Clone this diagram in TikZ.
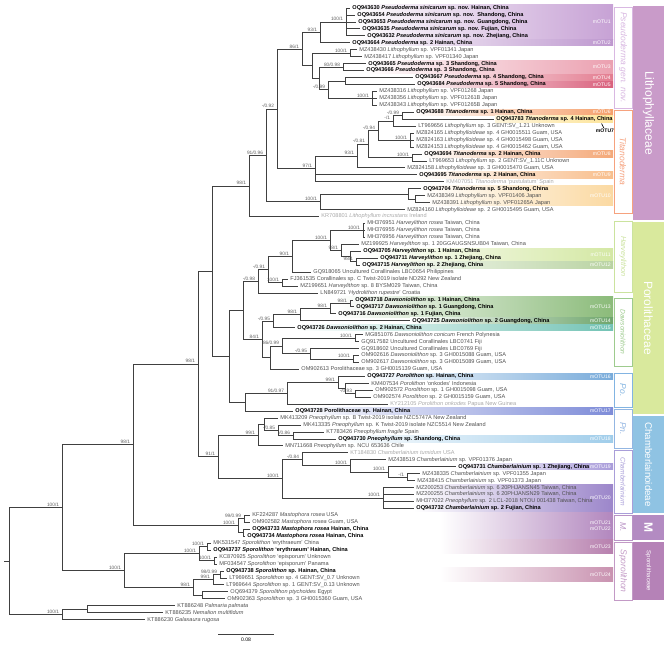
\documentclass[tikz,border=0pt]{standalone}
\usepackage{fontspec}
\setmainfont{Liberation Sans}
\usetikzlibrary{calc}

\definecolor{brgray}{HTML}{404040}
\definecolor{gbgray}{HTML}{505050}
\definecolor{tygray}{HTML}{A8A8A8}
\definecolor{supgray}{HTML}{606060}
\definecolor{c1}{HTML}{C7A2D5}
\definecolor{c2}{HTML}{BE98CF}
\definecolor{c3}{HTML}{EBA0B0}
\definecolor{c4}{HTML}{E37C90}
\definecolor{c5}{HTML}{D9607C}
\definecolor{c6}{HTML}{F5A06C}
\definecolor{c8}{HTML}{F4A878}
\definecolor{c9}{HTML}{F8BE8C}
\definecolor{c10}{HTML}{FBD9A2}
\definecolor{c11}{HTML}{D4E8A4}
\definecolor{c12}{HTML}{B9D3A2}
\definecolor{c13}{HTML}{8BBB7A}
\definecolor{c14}{HTML}{6EA56C}
\definecolor{c15}{HTML}{73C3B5}
\definecolor{c16}{HTML}{78ABDA}
\definecolor{c17}{HTML}{7E8CD8}
\definecolor{c18}{HTML}{A0CDEA}
\definecolor{c19}{HTML}{A99CDA}
\definecolor{c20}{HTML}{9C86CA}
\definecolor{c21}{HTML}{B287BE}
\definecolor{c23}{HTML}{B780AE}
\definecolor{c24}{HTML}{C992B0}
\definecolor{hl}{HTML}{FDE49A}
\definecolor{f1}{HTML}{C99BC9}
\definecolor{f2}{HTML}{D9E99D}
\definecolor{f3}{HTML}{8FC3E3}
\definecolor{f4}{HTML}{B38BC2}
\definecolor{f5}{HTML}{B582B7}
\definecolor{g1}{HTML}{D9B8E2}
\definecolor{g2}{HTML}{F6A27E}
\definecolor{g3}{HTML}{CBE39E}
\definecolor{g4}{HTML}{9ECB8E}
\definecolor{g5}{HTML}{82B4E2}
\definecolor{g6}{HTML}{93B6E2}
\definecolor{g7}{HTML}{A99ED9}
\definecolor{g8}{HTML}{B993C6}
\definecolor{g9}{HTML}{C39AC6}

\tikzset{
  br/.style={draw=brgray, line width=0.55pt},
  tiplab/.style={anchor=west, inner xsep=1.6pt, inner ysep=0.3pt, font=\fontsize{4.2}{5}\selectfont},
  gb/.style={tiplab, text=gbgray},
  nw/.style={tiplab, text=black, font=\fontsize{4.2}{5}\selectfont\bfseries},
  ty/.style={tiplab, text=tygray},
  sup/.style={anchor=south east, inner xsep=2pt, inner ysep=0.5pt, text=supgray, font=\fontsize{3.6}{4}\selectfont},
  motulab/.style={anchor=east, align=right, inner sep=0.4pt, text=white, font=\fontsize{3.8}{4.4}\selectfont},
  gentext/.style={rotate=-90, inner sep=0pt},
  famtext/.style={rotate=-90, inner sep=0pt, text=white},
}

% row number -> vertical position
\newcommand{\rowy}[1]{8+6.95*(#1-1)}
% leaf: name, tip x, row, style, label
\newcommand{\tip}[5]{\node[#4] (#1) at (#2,{\rowy{#3}}) {#5};}
% clade: name, x, support, children (first and last set the height)
\newcommand{\clade}[4]{%
  \foreach \ch [count=\i] in {#4}{\ifnum\i=1\xdef\cfirst{\ch}\fi\xdef\clast{\ch}}
  \path let \p1=($(\cfirst)!0.5!(\clast)$) in coordinate (#1) at ({#2*0.75pt},\y1);
  \node[sup] (#1s) at (#1) {#3};
  \foreach \ch in {#4} \draw[br] (#1) |- (\ch);
}
% mOTU band: name, first row, last row, left x, colour, label
\newcommand{\motu}[6]{%
  \shade[left color=white, right color=#5] (#4,{\rowy{#2}-3.2}) rectangle (613,{\rowy{#3}+3.2});
  \node[motulab] (#1) at (611.5,{\rowy{(#2+#3)/2}}) {#6};}
% genus box: name, top, bottom, colour, size, text
\newcommand{\genus}[6]{%
  \draw[#4, line width=0.6pt, fill=white] (614,#2) rectangle (632,#3);
  \node[gentext, text=#4, font=\fontsize{#5}{#5}\selectfont\itshape] (#1) at (623,{(#2+#3)/2}) {#6};}
% family box: name, top, bottom, colour, size, text
\newcommand{\family}[6]{%
  \fill[#4] (633,#2) rectangle (664,#3);
  \node[famtext, font=\fontsize{#5}{#5}\selectfont] (#1) at (648.5,{(#2+#3)/2}) {#6};}

\begin{document}
\begin{tikzpicture}[x=0.75pt, y=-0.75pt]
\useasboundingbox (0,0) rectangle (665,650);

% mOTU bands
\motu{m1}{1}{5}{352}{c1}{mOTU1}
\motu{m2}{6}{6}{352}{c2}{mOTU2}
\motu{m3}{9}{10}{365}{c3}{mOTU3}
\motu{m4}{11}{11}{412}{c4}{mOTU4}
\motu{m5}{12}{12}{412}{c5}{mOTU5}
\motu{m6}{16}{16}{412}{c6}{mOTU6}
\shade[left color=hl!35, right color=hl] (495,{\rowy{17}-3.3}) rectangle (613,{\rowy{17}+3.3});
\motu{m8}{22}{22}{420}{c8}{mOTU8}
\motu{m9}{25}{25}{415}{c9}{mOTU9}
\motu{m10}{27}{29}{420}{c10}{mOTU10}
\motu{m11}{36}{37}{360}{c11}{mOTU11}
\motu{m12}{38}{38}{360}{c12}{mOTU12}
\motu{m13}{43}{45}{336}{c13}{mOTU13}
\motu{m14}{46}{46}{410}{c14}{mOTU14}
\motu{m15}{47}{47}{295}{c15}{mOTU15}
\motu{m16}{54}{54}{365}{c16}{mOTU16}
\motu{m17}{59}{59}{293}{c17}{mOTU17}
\motu{m18}{63}{63}{336}{c18}{mOTU18}
\motu{m19}{67}{67}{456}{c19}{mOTU19}
\motu{m20}{70}{73}{414}{c20}{mOTU20}
\motu{m21}{74}{77}{440}{c21}{mOTU21\\mOTU22}
\motu{m23}{78}{79}{440}{c23}{mOTU23}
\motu{m24}{82}{83}{440}{c24}{mOTU24}

% genus and family columns
\genus{pseudog}{7}{108}{g1}{6.4}{Pseudoderma gen. nov.}
\genus{titanog}{110}{213}{g2}{6.4}{Titanoderma}
\genus{harvg}{221}{292}{g3}{5.5}{Harveylithon}
\genus{dawsg}{298}{366}{g4}{5}{Dawsoniolithon}
\genus{pog}{373}{407}{g5}{6.4}{Po.}
\genus{png}{409}{448}{g6}{6.4}{Pn.}
\genus{chamg}{450}{513}{g7}{5}{Chamberlainium}
\genus{mg}{515}{540}{g8}{6.4}{M.}
\genus{sporg}{542}{600}{g9}{6.4}{Sporolithon}
\family{lithf}{6}{220}{f1}{9}{Lithophyllaceae}
\family{porof}{222}{414}{f2}{9}{Porolithaceae}
\family{chamf}{416}{513}{f3}{7.3}{Chamberlainoideae}
\family{mastf}{515}{540}{f4}{9}{\bfseries M}
\family{sporf}{542}{600}{f5}{4.5}{Sporolithaceae}

% leaves
\tip{OQ943630}{350}{1}{nw}{OQ943630 \textit{Pseudoderma sinicarum} sp. nov. Hainan, China}
\tip{OQ943654}{355}{2}{nw}{OQ943654 \textit{Pseudoderma sinicarum} sp. nov.\ \ Shandong, China}
\tip{OQ943653}{356}{3}{nw}{OQ943653 \textit{Pseudoderma sinicarum} sp. nov. Guangdong, China}
\tip{OQ943635}{360}{4}{nw}{OQ943635 \textit{Pseudoderma sinicarum} sp. nov. Fujian, China}
\tip{OQ943632}{365}{5}{nw}{OQ943632 \textit{Pseudoderma sinicarum} sp. nov. Zhejiang, China}
\tip{OQ943664}{350}{6}{nw}{OQ943664 \textit{Pseudoderma} sp. 2 Hainan, China}
\tip{MZ438430}{357}{7}{gb}{MZ438430 \textit{Lithophyllum} sp. VPF01341 Japan}
\tip{MZ438417}{362}{8}{gb}{MZ438417 \textit{Lithophyllum} sp. VPF01340 Japan}
\tip{OQ943665}{366}{9}{nw}{OQ943665 \textit{Pseudoderma} sp. 3 Shandong, China}
\tip{OQ943666}{364}{10}{nw}{OQ943666 \textit{Pseudoderma} sp. 3 Shandong, China}
\tip{OQ943667}{413}{11}{nw}{OQ943667 \textit{Pseudoderma} sp. 4 Shandong, China}
\tip{OQ943684}{415}{12}{nw}{OQ943684 \textit{Pseudoderma} sp. 5 Shandong, China}
\tip{MZ438316}{377}{13}{gb}{MZ438316 \textit{Lithophyllum} sp. VPF01268 Japan}
\tip{MZ438356}{377}{14}{gb}{MZ438356 \textit{Lithophyllum} sp. VPF01261B Japan}
\tip{MZ438343}{377}{15}{gb}{MZ438343 \textit{Lithophyllum} sp. VPF01265B Japan}
\tip{OQ943688}{414}{16}{nw}{OQ943688 \textit{Titanoderma} sp. 1 Hainan, China}
\tip{OQ943783}{494}{17}{nw}{OQ943783 \textit{Titanoderma} sp. 4 Hainan, China}
\tip{LT969656}{416}{18}{gb}{LT969656 \textit{Lithophyllum} sp. 3 GENT:SV\_1.21 Unknown}
\tip{MZ824165}{414}{19}{gb}{MZ824165 \textit{Lithophylloideae} sp. 4 GH0015511 Guam, USA}
\tip{MZ824163}{414}{20}{gb}{MZ824163 \textit{Lithophylloideae} sp. 4 GH0015498 Guam, USA}
\tip{MZ824153}{414}{21}{gb}{MZ824153 \textit{Lithophylloideae} sp. 4 GH0015462 Guam, USA}
\tip{OQ943694}{422}{22}{nw}{OQ943694 \textit{Titanoderma} sp. 2 Hainan, China}
\tip{LT969653}{427}{23}{gb}{LT969653 \textit{Lithophyllum} sp. 2 GENT:SV\_1.11C Unknown}
\tip{MZ824158}{405}{24}{gb}{MZ824158 \textit{Lithophylloideae} sp. 3 GH0015470 Guam, USA}
\tip{OQ943695}{417}{25}{nw}{OQ943695 \textit{Titanoderma} sp. 2 Hainan, China}
\tip{KM407051}{444}{26}{ty}{KM407051 \textit{Titanoderma} `pustulatum' Spain}
\tip{OQ943704}{421}{27}{nw}{OQ943704 \textit{Titanoderma} sp. 5 Shandong, China}
\tip{MZ438349}{425}{28}{gb}{MZ438349 \textit{Lithophyllum} sp. VPF01406 Japan}
\tip{MZ438391}{430}{29}{gb}{MZ438391 \textit{Lithophyllum} sp. VPF01265A Japan}
\tip{MZ824160}{405}{30}{gb}{MZ824160 \textit{Lithophylloideae} sp. 2 GH0015495 Guam, USA}
\tip{KR708801}{319}{31}{ty}{KR708801 \textit{Lithophyllum incrustans} Ireland}
\tip{MH376951}{365}{32}{gb}{MH376951 \textit{Harveylithon rosea} Taiwan, China}
\tip{MH376955}{365}{33}{gb}{MH376955 \textit{Harveylithon rosea} Taiwan, China}
\tip{MH376956}{365}{34}{gb}{MH376956 \textit{Harveylithon rosea} Taiwan, China}
\tip{MZ199925}{359}{35}{gb}{MZ199925 \textit{Harveylithon} sp. 1 20GGAUGSNSUB04 Taiwan, China}
\tip{OQ943705}{361}{36}{nw}{OQ943705 \textit{Harveylithon} sp. 1 Hainan, China}
\tip{OQ943711}{378}{37}{nw}{OQ943711 \textit{Harveylithon} sp. 1 Zhejiang, China}
\tip{OQ943715}{360}{38}{nw}{OQ943715 \textit{Harveylithon} sp. 2 Zhejiang, China}
\tip{GQ918065}{311}{39}{gb}{GQ918065 Uncultured Corallinales LBC0654 Philippines}
\tip{FJ361535}{288}{40}{gb}{FJ361535 Corallinales sp. C Twist-2019 isolate ND292 New Zealand}
\tip{MZ199651}{298}{41}{gb}{MZ199651 \textit{Harveylithon} sp. 8 BYSM029 Taiwan, China}
\tip{LN849721}{318}{42}{gb}{LN849721 `\textit{Hydrolithon rupestre}' Croatia}
\tip{OQ943718}{353}{43}{nw}{OQ943718 \textit{Dawsoniolithon} sp. 1 Hainan, China}
\tip{OQ943717}{354}{44}{nw}{OQ943717 \textit{Dawsoniolithon} sp. 1 Guangdong, China}
\tip{OQ943716}{336}{45}{nw}{OQ943716 \textit{Dawsoniolithon} sp. 1 Fujian, China}
\tip{OQ943725}{410}{46}{nw}{OQ943725 \textit{Dawsoniolithon} sp. 2 Guangdong, China}
\tip{OQ943726}{295}{47}{nw}{OQ943726 \textit{Dawsoniolithon} sp. 2 Hainan, China}
\tip{MG851076}{363}{48}{gb}{MG851076 \textit{Dawsoniolithon conicum} French Polynesia}
\tip{GQ917582}{359}{49}{gb}{GQ917582 Uncultured Corallinales LBC0741 Fiji}
\tip{GQ918602}{359}{50}{gb}{GQ918602 Uncultured Corallinales LBC0769 Fiji}
\tip{OM902616}{359}{51}{gb}{OM902616 \textit{Dawsoniolithon} sp. 3 GH0015088 Guam, USA}
\tip{OM902617}{359}{52}{gb}{OM902617 \textit{Dawsoniolithon} sp. 3 GH0015089 Guam, USA}
\tip{OM902613}{299}{53}{gb}{OM902613 Porolithaceae sp. 3 GH0015139 Guam, USA}
\tip{OQ943727}{365}{54}{nw}{OQ943727 \textit{Porolithon} sp. Hainan, China}
\tip{KM407534}{369}{55}{gb}{KM407534 \textit{Porolithon} `onkodes' Indonesia}
\tip{OM902572}{373}{56}{gb}{OM902572 \textit{Porolithon} sp. 1 GH0015098 Guam, USA}
\tip{OM902574}{371}{57}{gb}{OM902574 \textit{Porolithon} sp. 2 GH0015159 Guam, USA}
\tip{KY212105}{388}{58}{ty}{KY212105 \textit{Porolithon onkodes} Papua New Guinea}
\tip{OQ943728}{293}{59}{nw}{OQ943728 Porolithaceae sp. Hainan, China}
\tip{MK413209}{278}{60}{gb}{MK413209 \textit{Pneophyllum} sp. B Twist-2019 isolate NZC5747A New Zealand}
\tip{MK413335}{301}{61}{gb}{MK413335 \textit{Pneophyllum} sp. K Twist-2019 isolate NZC5514 New Zealand}
\tip{KT783426}{324}{62}{gb}{KT783426 \textit{Pneophyllum fragile} Spain}
\tip{OQ943730}{336}{63}{nw}{OQ943730 \textit{Pneophyllum} sp. Shandong, China}
\tip{MN711668}{283}{64}{gb}{MN711668 \textit{Pneophyllum} sp. NCU 653636 Chile}
\tip{KT184830}{348}{65}{ty}{KT184830 \textit{Chamberlainium tumidum} USA}
\tip{MZ438519}{386}{66}{gb}{MZ438519 \textit{Chamberlainium} sp. VPF01376 Japan}
\tip{OQ943731}{456}{67}{nw}{OQ943731 \textit{Chamberlainium} sp. 1 Zhejiang, China}
\tip{MZ438335}{420}{68}{gb}{MZ438335 \textit{Chamberlainium} sp. VPF01355 Japan}
\tip{MZ438415}{415}{69}{gb}{MZ438415 \textit{Chamberlainium} sp. VPF01373 Japan}
\tip{MZ200253}{414}{70}{gb}{MZ200253 \textit{Chamberlainium} sp. 6 20PHJANSN45 Taiwan, China}
\tip{MZ200255}{414}{71}{gb}{MZ200255 \textit{Chamberlainium} sp. 6 20PHJANSN29 Taiwan, China}
\tip{MH377022}{414}{72}{gb}{MH377022 \textit{Pneophyllum} sp. 2 LCL-2018 NTOU 001438 Taiwan, China}
\tip{OQ943732}{414}{73}{nw}{OQ943732 \textit{Chamberlainium} sp. 2 Fujian, China}
\tip{KF224287}{250}{74}{gb}{KF224287 \textit{Mastophora rosea} USA}
\tip{OM902582}{250}{75}{gb}{OM902582 \textit{Mastophora rosea} Guam, USA}
\tip{OQ943733}{250}{76}{nw}{OQ943733 \textit{Mastophora rosea} Hainan, China}
\tip{OQ943734}{245}{77}{nw}{OQ943734 \textit{Mastophora rosea} Hainan, China}
\tip{MK531547}{211}{78}{gb}{MK531547 \textit{Sporolithon} `erythraeum' China}
\tip{OQ943737}{211}{79}{nw}{OQ943737 \textit{Sporolithon} `erythraeum' Hainan, China}
\tip{KC870925}{217}{80}{gb}{KC870925 \textit{Sporolithon} `episporum' Unknown}
\tip{MF034547}{217}{81}{gb}{MF034547 \textit{Sporolithon} `episporum' Panama}
\tip{OQ943738}{224}{82}{nw}{OQ943738 \textit{Sporolithon} sp. Hainan, China}
\tip{LT969651}{227}{83}{gb}{LT969651 \textit{Sporolithon} sp. 4 GENT:SV\_0.7 Unknown}
\tip{LT969644}{224}{84}{gb}{LT969644 \textit{Sporolithon} sp. 1 GENT:SV\_0.13 Unknown}
\tip{OQ694379}{228}{85}{gb}{OQ694379 \textit{Sporolithon ptychoides} Egypt}
\tip{OM902363}{225}{86}{gb}{OM902363 \textit{Sporolithon} sp. 3 GH0015360 Guam, USA}
\tip{KT886248}{175}{87}{gb}{KT886248 \textit{Palmaria palmata}}
\tip{KT886235}{163}{88}{gb}{KT886235 \textit{Nemalion multifidum}}
\tip{KT886230}{145}{89}{gb}{KT886230 \textit{Galaxaura rugosa}}

% Lithophyllaceae
\clade{sini}{346}{100/1}{OQ943630,OQ943654,OQ943653,OQ943635,OQ943632}
\clade{ps93}{320}{93/1}{sini,OQ943664}
\clade{jpA}{350}{100/1}{MZ438430,MZ438417}
\clade{ps3}{343}{80/0.98}{OQ943665,OQ943666}
\clade{ps45}{345}{}{OQ943667,OQ943684}
\clade{jpB}{372}{100/1}{MZ438316,MZ438356,MZ438343}
\clade{psB}{328}{-/0.99}{ps45,jpB}
\clade{psA}{319}{}{ps3,psB}
\clade{psQ}{312}{}{jpA,psA}
\clade{pseudo}{302}{86/1}{ps93,psQ}
\clade{ti99}{402}{-/0.99}{OQ943688,OQ943783}
\clade{ti1}{393}{-/1}{ti99,LT969656}
\clade{guam4}{410}{100/1}{MZ824165,MZ824163,MZ824153}
\clade{ti94}{378}{-/0.94}{ti1,guam4}
\clade{ti2}{412}{100/1}{OQ943694,LT969653}
\clade{ti81}{368}{-/0.81}{ti94,ti2}
\clade{ti93}{357}{93/1}{ti81,MZ824158}
\clade{titano}{315}{97/1}{ti93,OQ943695,KM407051}
\clade{t5a}{415}{}{MZ438349,MZ438391}
\clade{t5b}{408}{}{OQ943704,t5a}
\clade{t5}{320}{100/1}{t5b,MZ824160}
\clade{n92}{277}{-/0.92}{pseudo,titano}
\clade{n91}{266}{91/0.96}{n92,t5}
\clade{lith}{249}{98/1}{n91,KR708801}
% Porolithaceae
\clade{hros}{363}{100/1}{MH376951,MH376955,MH376956}
\clade{hv3}{356}{98/1}{OQ943711,OQ943715}
\clade{hv2}{350}{}{OQ943705,hv3}
\clade{hv1}{341}{98/1}{MZ199925,hv2}
\clade{hv100}{330}{100/1}{hros,hv1}
\clade{hv90}{292}{90/1}{hv100,GQ918065}
\clade{hvp}{282}{100/1}{FJ361535,MZ199651}
\clade{hv91}{268}{-/0.91}{hv90,hvp}
\clade{harv}{258}{-/0.98}{hv91,LN849721}
\clade{dw1}{350}{98/1}{OQ943718,OQ943717}
\clade{dw2}{330}{98/1}{dw1,OQ943716}
\clade{dw3}{300}{98/1}{dw2,OQ943725}
\clade{dw95}{273}{-/0.95}{dw3,OQ943726}
\clade{dwc}{355}{100/1}{MG851076,GQ917582}
\clade{dwp}{353}{100/1}{OM902616,OM902617}
\clade{dwq}{310}{-/0.95}{GQ918602,dwp}
\clade{dw86}{282}{86/0.99}{dwc,dwq}
\clade{dwx}{270}{}{dw86,OM902613}
\clade{daws}{262}{84/1}{dw95,dwx}
\clade{poA}{243}{}{harv,daws}
\clade{po3}{355}{-/0.93}{OM902572,OM902574}
\clade{po2}{345}{}{KM407534,po3}
\clade{po99}{338}{99/1}{OQ943727,po2}
\clade{po91}{287}{91/0.97}{po99,KY212105}
\clade{poB}{245}{}{po91,OQ943728}
\clade{poro}{229}{}{poA,poB}
% Chamberlainoideae
\clade{pn4}{293}{-/0.86}{KT783426,OQ943730}
\clade{pn3}{278}{-/0.85}{MK413335,pn4}
\clade{pn2}{264}{}{MK413209,pn3}
\clade{pneo}{258}{99/1}{pn2,MN711668}
\clade{ch5}{407}{-/1}{MZ438335,MZ438415}
\clade{ch4}{388}{100/1}{OQ943731,ch5}
\clade{ch3}{350}{100/1}{MZ438519,ch4}
\clade{ch1}{302}{-/0.84}{KT184830,ch3}
\clade{ch2}{383}{100/1}{MZ200253,MZ200255,MH377022,OQ943732}
\clade{cham}{282}{100/1}{ch1,ch2}
\clade{n91b}{218}{91/1}{pneo,cham}
\clade{n212}{212}{}{lith,poro}
\clade{n98}{198}{98/1}{n212,n91b}
% Mastophora, Sporolithon, outgroup
\clade{mst1}{244}{99/0.99}{KF224287,OM902582}
\clade{mst2}{243}{}{OQ943733,OQ943734}
\clade{mast}{238}{100/1}{mst1,mst2}
\clade{n99}{133}{98/1}{n98,mast}
\clade{sp1a}{207}{100/1}{MK531547,OQ943737}
\clade{sp1b}{214}{100/1}{KC870925,MF034547}
\clade{sp1}{199}{100/1}{sp1a,sp1b}
\clade{sp2b}{220}{98/0.99}{OQ943738,LT969651}
\clade{sp2a}{213}{99/1}{sp2b,LT969644}
\clade{sp2c}{202}{}{OQ694379,OM902363}
\clade{sp2}{193}{98/1}{sp2a,sp2c}
\clade{spor}{124}{100/1}{sp1,sp2}
\clade{ingr}{62}{100/1}{n99,spor}
\clade{palnem}{87}{}{KT886248,KT886235}
\clade{outg}{62}{100/1}{palnem,KT886230}
\clade{root}{9}{}{ingr,outg}
\path (root) ++(-5,0) coordinate (rootend);
\draw[br] (root) -- (rootend);

% callout for the single-sequence mOTU
\node[font=\fontsize{3.8}{4}\selectfont\bfseries, anchor=north, inner sep=0.3pt] (m7) at (605,128) {mOTU7};
\coordinate (m7c) at (601.5,123.5);
\draw[line width=0.5pt] (m7c) -- (m7);

% scale bar
\coordinate (sbl) at (218,634);
\coordinate (sbr) at (274,634);
\draw[br] (sbl) -- (sbr) node[midway, below=2.5pt, inner sep=0pt, font=\fontsize{3.8}{4}\selectfont] (sbt) {0.08};
\end{tikzpicture}
\end{document}
